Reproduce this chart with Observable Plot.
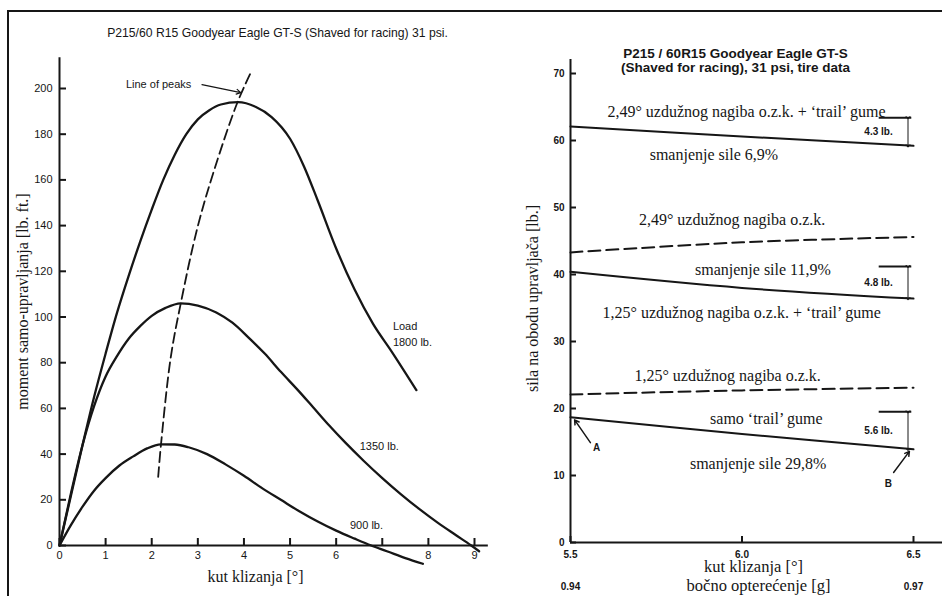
<!DOCTYPE html>
<html><head><meta charset="utf-8">
<script src="https://cdn.jsdelivr.net/npm/d3@7"></script>
<script src="https://cdn.jsdelivr.net/npm/@observablehq/plot@0.6"></script>
<style>
html,body{margin:0;padding:0;background:#fff;}
#wrap{position:relative;width:942px;height:596px;overflow:hidden;background:#fff;}
#frame{position:absolute;left:7px;top:10px;width:940px;height:600px;border-top:2px solid #161616;border-left:2px solid #161616;}
#left{position:absolute;left:0;top:0;}
#right{position:absolute;left:480px;top:0;}
svg{overflow:visible;}
</style></head><body>
<div id="wrap"><div id="frame"></div><div id="left"></div><div id="right"></div></div>
<script>
// ---------- Left chart data: self-aligning torque vs slip angle ----------
const angle1800 = [0, 0.25, 0.5, 0.75, 1.0, 1.25, 1.5, 1.75, 2.0, 2.25, 2.5, 2.75, 3.0, 3.25, 3.5, 3.87, 4.25, 4.6, 5.0, 5.3, 5.6, 6.0, 6.4, 6.8, 7.2, 7.74];
const mz1800    = [0, 22, 44, 65, 84, 102, 118, 133, 147, 160, 171, 180, 186.5, 190.5, 193, 194, 192, 187.5, 178, 166, 151, 130, 112, 97, 85, 68];
const angle1350 = [0, 0.25, 0.5, 0.75, 1.0, 1.25, 1.5, 1.75, 2.0, 2.3, 2.63, 3.0, 3.4, 3.75, 4.1, 4.45, 4.8, 5.17, 5.5, 5.85, 6.2, 6.6, 7.0, 7.4, 7.8, 8.2, 8.6, 8.93, 9.1];
const mz1350    = [0, 23, 44, 61, 74, 83, 90.5, 96, 100.5, 104, 106, 105, 102, 97.5, 91, 84, 76, 68, 60.5, 52.5, 45, 37, 29.5, 22.5, 16, 10, 4.5, 0, -2.5];
const angle900  = [0, 0.25, 0.5, 0.75, 1.0, 1.3, 1.6, 1.9, 2.2, 2.5, 2.8, 3.2, 3.6, 4.0, 4.4, 4.8, 5.2, 5.6, 6.0, 6.4, 6.76, 7.1, 7.5, 7.88];
const mz900     = [0, 9, 17, 24, 29.5, 35, 39, 42.5, 44.3, 44.2, 43, 40, 35.5, 30.5, 25, 20, 15, 10.5, 6.5, 3, 0, -2.5, -5.5, -8];
const peakAngle = [2.14, 2.2, 2.41, 2.63, 2.99, 3.35, 3.86, 4.15];
const peakMz    = [30, 44, 82, 106, 139, 164, 194, 207];
const yTicksLeft = [0, 20, 40, 60, 80, 100, 120, 140, 160, 180, 200];
const xTicksLeft = [0, 1, 2, 3, 4, 5, 6, 7, 8, 9];
const xTickLabelsLeft = ["0", "1", "2", "3", "4", "5", "6", "", "8", "9"];

// ---------- Right chart data: steering rim force vs slip angle ----------
const slipRight      = [5.5, 6.0, 6.5];
const force249Trail  = [62.1, 60.6, 59.2];
const force249       = [43.3, 44.8, 45.6];
const force125Trail  = [40.4, 38.0, 36.4];
const force125       = [22.1, 22.7, 23.1];
const forceTrail     = [18.7, 16.2, 13.9];
const bracketTop     = [63.4, 41.2, 19.5];
const bracketBottom  = [59.2, 36.4, 13.9];
const bracketLabels  = ["4.3 lb.", "4.8 lb.", "5.6 lb."];
const yTicksRight = [0, 10, 20, 30, 40, 50, 60, 70];
const xTicksRight = [5.5, 6.0, 6.5];
const xTickLabelsRight = ["5.5", "6.0", "6.5"];
const gTicksRight = [5.5, 6.5];
const gTickLabelsRight = ["0.94", "0.97"];

const ink = "#161616";
const serif = "'Liberation Serif','Times New Roman',serif";
const sans = "'Liberation Sans',Arial,Helvetica,sans-serif";
const pts = (xs, ys) => xs.map((x, i) => ({x, y: ys[i]}));

const left = Plot.plot({
  width: 480, height: 596,
  marginLeft: 59, marginRight: 6, marginTop: 88, marginBottom: 51,
  x: {domain: [0, 9], label: null},
  y: {domain: [0, 200], label: null},
  style: {fontFamily: sans, fontSize: "11px", color: ink, background: "transparent"},
  marks: [
    Plot.ruleX([0], {y1: 0, y2: 213.5, stroke: ink, strokeWidth: 2}),
    Plot.ruleY([0], {x1: 0, x2: 9.3, stroke: ink, strokeWidth: 2}),
    Plot.axisY(yTicksLeft, {tickSize: -7, tickPadding: 14, stroke: ink, strokeWidth: 2, label: null}),
    Plot.axisX(xTicksLeft, {tickSize: -7, tickPadding: 13, stroke: ink, strokeWidth: 2, label: null,
      tickFormat: d => xTickLabelsLeft[xTicksLeft.indexOf(d)]}),
    Plot.line(pts(angle1800, mz1800), {x: "x", y: "y", curve: "monotone-x", stroke: ink, strokeWidth: 2.3}),
    Plot.line(pts(angle1350, mz1350), {x: "x", y: "y", curve: "monotone-x", stroke: ink, strokeWidth: 2.3}),
    Plot.line(pts(angle900, mz900), {x: "x", y: "y", curve: "monotone-x", stroke: ink, strokeWidth: 2.3}),
    Plot.line(pts(peakAngle, peakMz), {x: "x", y: "y", curve: "catmull-rom", stroke: ink, strokeWidth: 1.8, strokeDasharray: "10,5"}),
    Plot.text(["Line of peaks"], {x: 2.15, y: 201.7, fontSize: 11, fill: ink}),
    Plot.arrow([0], {x1: 3.09, y1: 201.7, x2: 3.93, y2: 198.2, stroke: ink, strokeWidth: 1.2, headLength: 6}),
    Plot.text(["Load\n1800 lb."], {x: 7.23, y: 93.2, textAnchor: "start", lineHeight: 1.45, fontSize: 11, fill: ink}),
    Plot.text(["1350 lb."], {x: 6.51, y: 43.3, textAnchor: "start", fontSize: 11, fill: ink}),
    Plot.text(["900 lb."], {x: 6.3, y: 8.8, textAnchor: "start", fontSize: 11, fill: ink}),
    Plot.text(["P215/60 R15 Goodyear Eagle GT-S (Shaved for racing) 31 psi."],
      {frameAnchor: "top", lineAnchor: "middle", textAnchor: "middle", dx: 10.5, dy: -55, fontSize: 12.2, fill: ink}),
    Plot.text(["moment samo-upravljanja [lb. ft.]"],
      {frameAnchor: "left", textAnchor: "middle", lineAnchor: "middle", dx: -37, dy: -15.5, rotate: -90, fontFamily: serif, fontSize: 16, fill: ink}),
    Plot.text(["kut klizanja [°]"],
      {frameAnchor: "bottom", textAnchor: "middle", lineAnchor: "middle", dx: -11.5, dy: 31, fontFamily: serif, fontSize: 16, fill: ink})
  ]
});
document.getElementById("left").appendChild(left);

const right = Plot.plot({
  width: 462, height: 596,
  marginLeft: 90, marginRight: 29, marginTop: 73, marginBottom: 54,
  x: {domain: [5.5, 6.5], label: null},
  y: {domain: [0, 70], label: null},
  style: {fontFamily: sans, fontSize: "10px", fontWeight: "bold", color: ink, background: "transparent"},
  marks: [
    Plot.ruleX([5.5], {y1: 0, y2: 72.1, stroke: ink, strokeWidth: 2}),
    Plot.ruleY([0], {x1: 5.5, x2: 6.6, stroke: ink, strokeWidth: 2}),
    Plot.axisY(yTicksRight, {tickSize: -6, tickPadding: 12, stroke: ink, strokeWidth: 2, label: null}),
    Plot.axisX(xTicksRight, {tickSize: -6, tickPadding: 14, stroke: ink, strokeWidth: 2, label: null,
      tickFormat: d => xTickLabelsRight[xTicksRight.indexOf(d)]}),
    Plot.axisX(gTicksRight, {tickSize: 0, tickPadding: 40, label: null,
      tickFormat: d => gTickLabelsRight[gTicksRight.indexOf(d)]}),
    Plot.line(pts(slipRight, force249Trail), {x: "x", y: "y", curve: "catmull-rom", stroke: ink, strokeWidth: 2}),
    Plot.line(pts(slipRight, force249), {x: "x", y: "y", curve: "catmull-rom", stroke: ink, strokeWidth: 2, strokeDasharray: "12,6"}),
    Plot.line(pts(slipRight, force125Trail), {x: "x", y: "y", curve: "catmull-rom", stroke: ink, strokeWidth: 2}),
    Plot.line(pts(slipRight, force125), {x: "x", y: "y", curve: "catmull-rom", stroke: ink, strokeWidth: 2, strokeDasharray: "12,6"}),
    Plot.line(pts(slipRight, forceTrail), {x: "x", y: "y", curve: "catmull-rom", stroke: ink, strokeWidth: 2}),
    // brackets
    Plot.ruleY(bracketTop, {x1: 6.4, x2: 6.495, stroke: ink, strokeWidth: 2}),
    Plot.link(bracketTop.map((t, i) => ({t, b: bracketBottom[i]})),
      {x1: 6.484, x2: 6.484, y1: "t", y2: "b", stroke: ink, strokeWidth: 1, markerStart: "arrow", markerEnd: "arrow"}),
    Plot.text(bracketLabels.map((l, i) => ({l, y: (bracketTop[i] + bracketBottom[i]) / 2})),
      {x: 6.398, y: "y", text: "l", fontSize: 10, fontWeight: "bold", fill: ink}),
    // A / B pointers
    Plot.arrow([0], {x1: 5.558, y1: 14.9, x2: 5.512, y2: 18.3, stroke: ink, strokeWidth: 1.5, headLength: 5}),
    Plot.text(["A"], {x: 5.576, y: 14.2, fontSize: 10, fill: ink}),
    Plot.arrow([0], {x1: 6.442, y1: 10.45, x2: 6.488, y2: 13.6, stroke: ink, strokeWidth: 1.5, headLength: 5}),
    Plot.text(["B"], {x: 6.427, y: 8.8, fontSize: 10, fill: ink}),
    // annotations
    Plot.text(["2,49° uzdužnog nagiba o.z.k. + ‘trail’ gume"], {x: 6.013, y: 64.2, fontFamily: serif, fontWeight: "normal", fontSize: 16, fill: ink}),
    Plot.text(["smanjenje sile 6,9%"], {x: 5.918, y: 57.8, fontFamily: serif, fontWeight: "normal", fontSize: 16, fill: ink}),
    Plot.text(["2,49° uzdužnog nagiba o.z.k."], {x: 5.971, y: 48.1, fontFamily: serif, fontWeight: "normal", fontSize: 16, fill: ink}),
    Plot.text(["smanjenje sile 11,9%"], {x: 6.061, y: 40.7, fontFamily: serif, fontWeight: "normal", fontSize: 16, fill: ink}),
    Plot.text(["1,25° uzdužnog nagiba o.z.k. + ‘trail’ gume"], {x: 5.999, y: 34.2, fontFamily: serif, fontWeight: "normal", fontSize: 16, fill: ink}),
    Plot.text(["1,25° uzdužnog nagiba o.z.k."], {x: 5.958, y: 24.9, fontFamily: serif, fontWeight: "normal", fontSize: 16, fill: ink}),
    Plot.text(["samo ‘trail’ gume"], {x: 6.071, y: 18.5, fontFamily: serif, fontWeight: "normal", fontSize: 16, fill: ink}),
    Plot.text(["smanjenje sile 29,8%"], {x: 6.047, y: 11.8, fontFamily: serif, fontWeight: "normal", fontSize: 16, fill: ink}),
    // titles and axis labels
    Plot.text(["P215 / 60R15 Goodyear Eagle GT-S\n(Shaved for racing), 31 psi, tire data"],
      {frameAnchor: "top", textAnchor: "middle", lineAnchor: "middle", dx: -6.5, dy: -13, lineHeight: 1.08, fontSize: 13.5, fontWeight: "bold", fill: ink}),
    Plot.text(["sila na obodu upravljača [lb.]"],
      {frameAnchor: "left", textAnchor: "middle", lineAnchor: "middle", dx: -38, dy: -9.5, rotate: -90, fontFamily: serif, fontWeight: "normal", fontSize: 16, fill: ink}),
    Plot.text(["kut klizanja [°]"],
      {frameAnchor: "bottom", textAnchor: "middle", lineAnchor: "middle", dx: 11.5, dy: 24, fontFamily: serif, fontWeight: "normal", fontSize: 16.5, fill: ink}),
    Plot.text(["bočno opterećenje [g]"],
      {frameAnchor: "bottom", textAnchor: "middle", lineAnchor: "middle", dx: 16.5, dy: 43, fontFamily: serif, fontWeight: "normal", fontSize: 16.5, fill: ink})
  ]
});
document.getElementById("right").appendChild(right);
</script></body></html>
